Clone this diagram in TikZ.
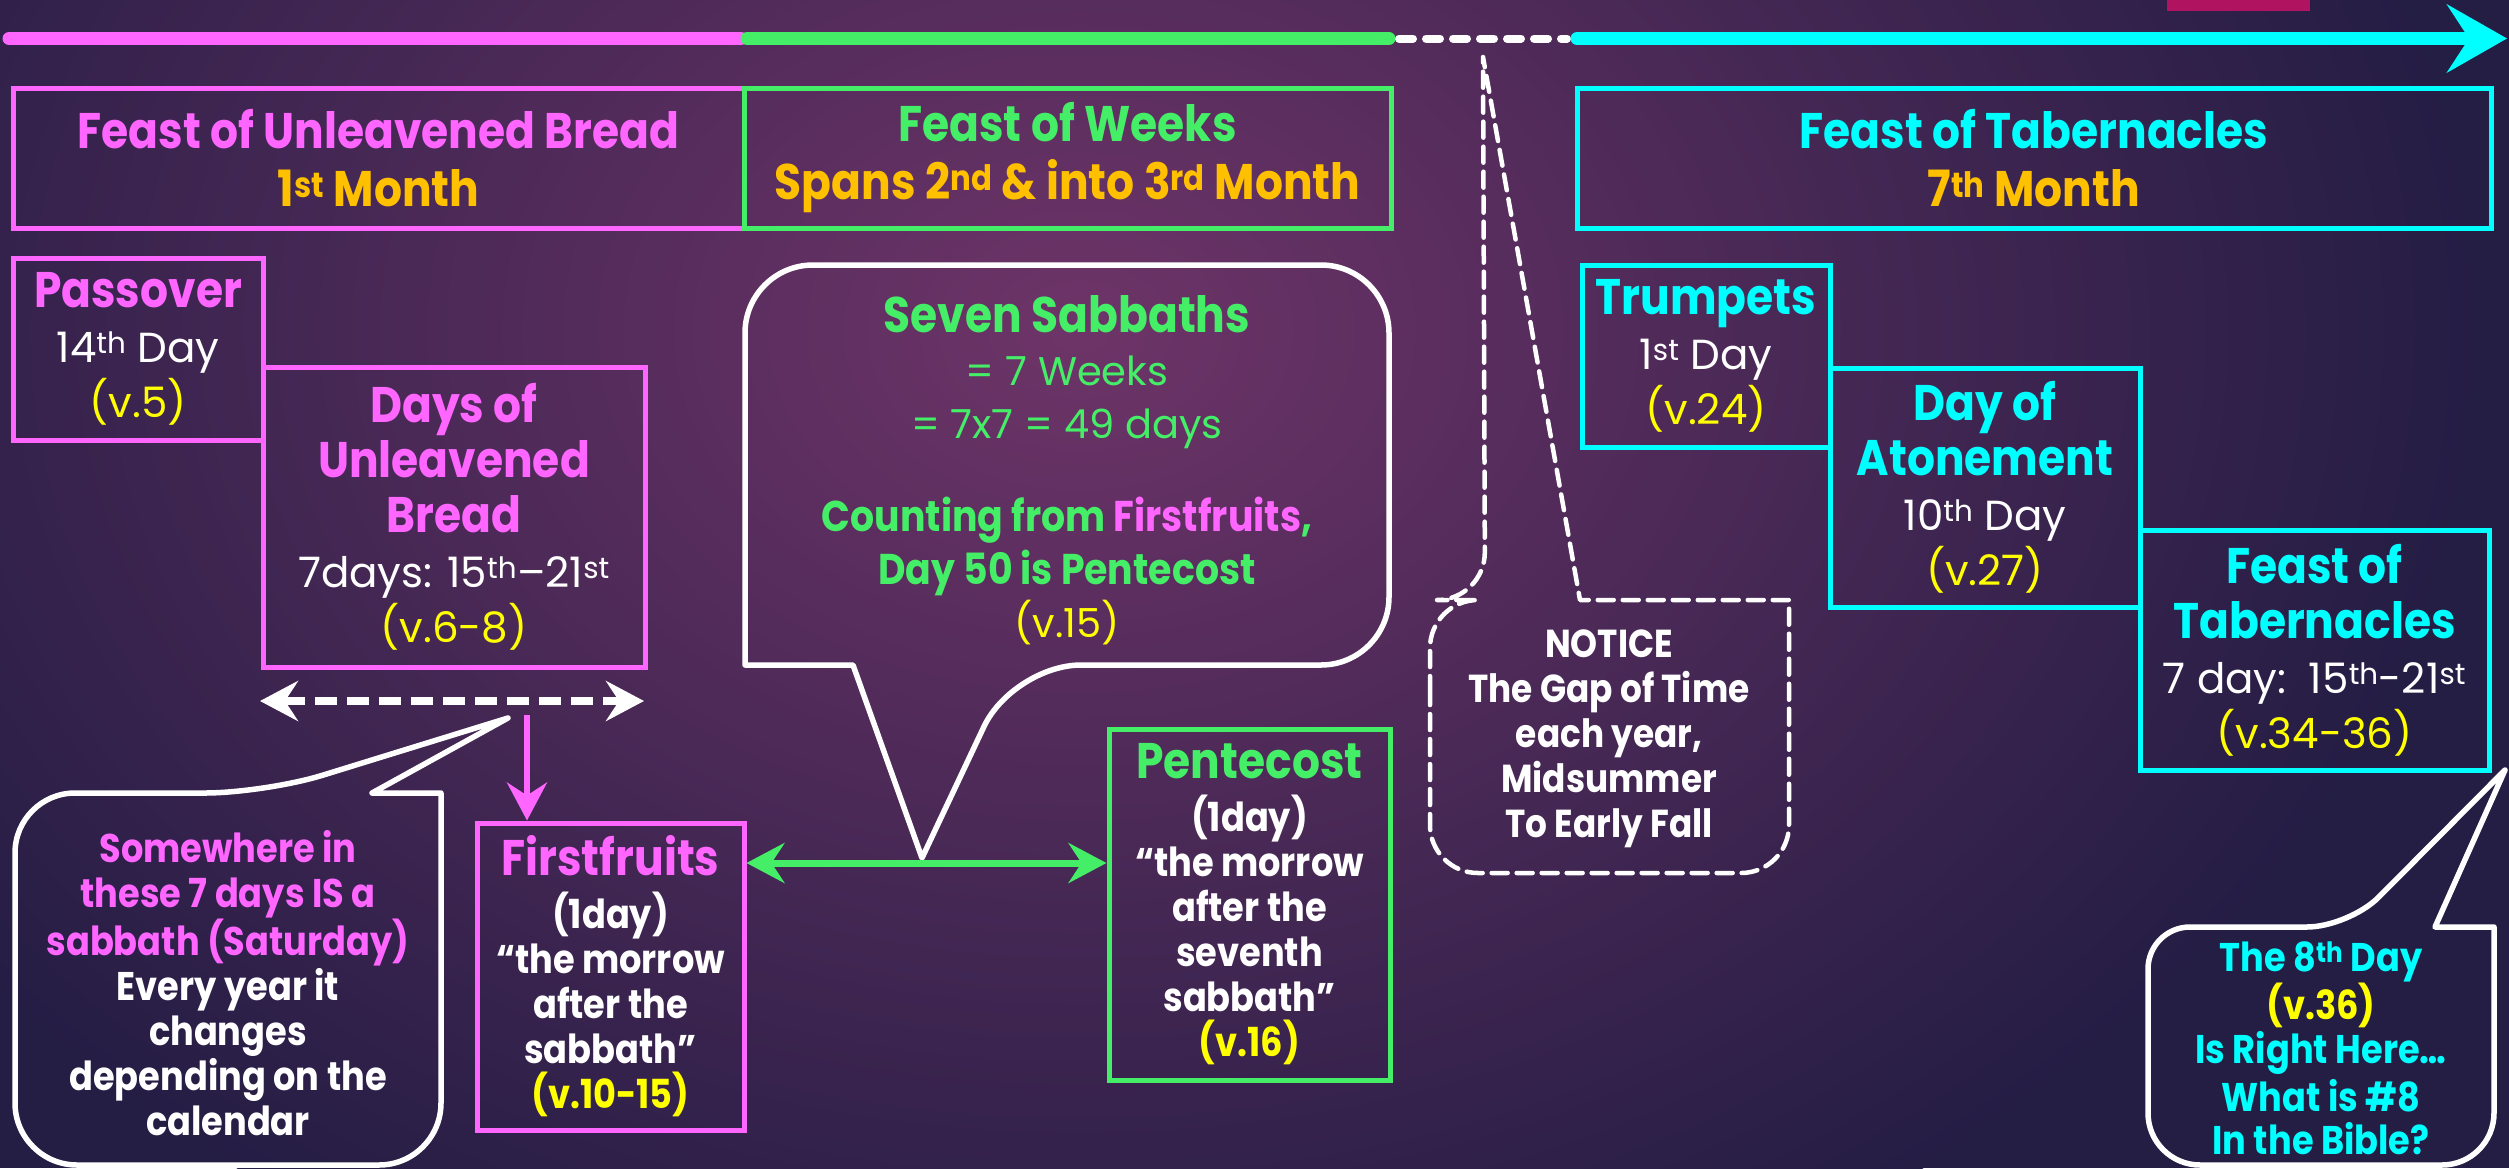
\documentclass[tikz,border=0pt]{standalone}
\usepackage{fontspec}
\setmainfont{Poppins}[BoldFeatures={FakeStretch=0.88}]
\usetikzlibrary{arrows.meta,calc}
\definecolor{mag}{HTML}{FF66FF}
\definecolor{grn}{HTML}{44EE66}
\definecolor{cyn}{HTML}{00FFFF}
\definecolor{gold}{HTML}{FFC000}
\definecolor{yel}{HTML}{FFFF00}
\definecolor{bgM}{HTML}{6E3468}
\definecolor{bgR}{HTML}{241D44}
\definecolor{crim}{HTML}{B0135F}
\newcommand\supx[1]{\textsuperscript{#1}}
\newcommand\regtxt{\mdseries\fontsize{42}{55}\selectfont}
\tikzset{
  fbox/.style={draw=#1, line width=5pt, inner sep=0pt, align=center, text=white},
  ttlfont/.style={font=\fontsize{50}{55}\selectfont\bfseries},
  smallfont/.style={font=\fontsize{40}{45}\selectfont\bfseries},
  txt/.style={align=center, text=white, inner sep=0pt},
  callout/.style={draw=white, line width=5.5pt, line join=round},
  noticeline/.style={draw=white, line width=4.5pt, dash pattern=on 16pt off 9pt, line cap=round, line join=round},
  tipA/.tip={Stealth[length=60pt,width=68pt,inset=22pt]},
  tipB/.tip={Stealth[length=38pt,width=40pt,inset=13pt]},
}
\begin{document}
\begin{tikzpicture}[x=1pt,y=-1pt]
\useasboundingbox (0,0) rectangle (2509,1168);
% background
\begin{scope}
\clip (0,0) rectangle (2509,1168);
\fill[bgR] (0,0) rectangle (2509,1168);
\shade[inner color=bgM, outer color=bgR] (1080,330) ellipse [x radius=1400, y radius=1050];
\fill[crim] (2167,-2) rectangle (2310,11);
\end{scope}

% timeline
\coordinate (tA) at (9,38.5);
\coordinate (tB) at (741,38.5);
\coordinate (tC) at (1389,38.5);
\coordinate (tD) at (1577,38.5);
\coordinate (tE) at (2507,38.5);
\draw[mag, line width=13pt, line cap=round] (tA) -- (tB);
\draw[grn, line width=13pt, line cap=round] ($(tB)+(6,0)$) -- (tC);
\draw[white, line width=8pt, line cap=round, dash pattern=on 14pt off 13pt] ($(tC)+(10,0)$) -- ($(tD)+(-10,0)$);
\draw[cyn, line width=13pt, line cap=round, -{tipA}] (tD) -- (tE);

% callout outlines (drawn first, under the texts)
\draw[callout] (745,465) [rounded corners=68pt] -- (745,265) -- (1389,265) -- (1389,665) -- (1013,665)
  [sharp corners] -- (922,858) -- (853,665) -- (745,665) [rounded corners=68pt] -- cycle;
\draw[callout] (15,980) [rounded corners=60pt] -- (15,793) -- (265,793) [sharp corners] -- (508,718) -- (372,793)
  -- (441,793) [rounded corners=62pt] -- (441,1165) -- (15,1165) -- cycle;
\draw[noticeline] (1430,740) [rounded corners=48pt] -- (1430,600) -- (1485,600) [sharp corners] -- (1483,57) -- (1580,600)
  -- (1789,600) [rounded corners=48pt] -- (1789,873) -- (1430,873) -- cycle;
\draw[callout] (2148,1050) [rounded corners=42pt] -- (2148,927) -- (2349,927) [sharp corners] -- (2505,770) -- (2435,927)
  -- (2494,927) [rounded corners=52pt] -- (2494,1165) -- (2148,1165) -- cycle;

% header boxes
\node[fbox=mag, minimum width=731pt, minimum height=140pt, font=\fontsize{50}{58}\selectfont\bfseries] (hub) at (378.5,158)
  {{\color{mag}Feast of Unleavened Bread}\\{\color{gold}1\supx{st} Month}};
\node[fbox=grn, minimum width=647pt, minimum height=140pt, font=\fontsize{50}{58}\selectfont\bfseries] (hwk) at (1067.5,158)
  {{\color{grn}Feast of Weeks}\\{\color{gold}Spans 2\supx{nd} \& into 3\supx{rd} Month}};
\node[fbox=cyn, minimum width=914pt, minimum height=140pt, font=\fontsize{50}{58}\selectfont\bfseries] (htb) at (2034,158)
  {{\color{cyn}Feast of Tabernacles}\\{\color{gold}7\supx{th} Month}};

% feast boxes
\node[fbox=mag, ttlfont, minimum width=250pt, minimum height=182pt] (pass) at (138,349)
  {{\color{mag}Passover}\\{\regtxt 14\supx{th} Day}\\{\regtxt\color{yel}(v.5)}};
\node[fbox=mag, ttlfont, minimum width=382pt, minimum height=300pt] (dub) at (454,517)
  {{\color{mag}Days of}\\{\color{mag}Unleavened}\\{\color{mag}Bread}\\{\regtxt 7days: 15\supx{th}–21\supx{st}}\\{\regtxt\color{yel}(v.6-8)}};
\node[fbox=mag, smallfont, minimum width=267pt, minimum height=307pt] (ff) at (610.5,976.5)
  {{\fontsize{50}{45}\selectfont\color{mag}Firstfruits}\\[8pt]{(1day)}\\{“the morrow}\\{after the}\\{sabbath”}\\{\color{yel}(v.10-15)}};
\node[fbox=grn, smallfont, minimum width=281pt, minimum height=351pt] (pent) at (1249.5,904.5)
  {{\fontsize{50}{45}\selectfont\color{grn}Pentecost}\\[8pt]{(1day)}\\{“the morrow}\\{after the}\\{seventh}\\{sabbath”}\\{\color{yel}(v.16)}};
\node[fbox=cyn, ttlfont, minimum width=248pt, minimum height=182pt] (trump) at (1706,356)
  {{\color{cyn}Trumpets}\\{\regtxt 1\supx{st} Day}\\{\regtxt\color{yel}(v.24)}};
\node[fbox=cyn, ttlfont, minimum width=310pt, minimum height=239pt] (aton) at (1985,487.5)
  {{\color{cyn}Day of}\\{\color{cyn}Atonement}\\{\regtxt 10\supx{th} Day}\\{\regtxt\color{yel}(v.27)}};
\node[fbox=cyn, ttlfont, minimum width=349pt, minimum height=240pt] (tab) at (2314.5,650)
  {{\color{cyn}Feast of}\\{\color{cyn}Tabernacles}\\{\regtxt 7 day:\ \ 15\supx{th}-21\supx{st}}\\{\regtxt\color{yel}(v.34-36)}};

% callout texts
\node[txt, font=\fontsize{40}{53}\selectfont] (ss) at (1067,470)
  {{\bfseries\fontsize{50}{53}\selectfont\color{grn}Seven Sabbaths}\\{\color{grn}= 7 Weeks}\\{\color{grn}= 7x7 = 49 days}\\[40pt]{\bfseries\fontsize{43}{53}\selectfont\color{grn}Counting from {\color{mag}Firstfruits},}\\{\bfseries\fontsize{43}{53}\selectfont\color{grn}Day 50 is Pentecost}\\{\color{yel}(v.15)}};
\node[txt, smallfont] (sbt) at (228,983)
  {{\color{mag}Somewhere in}\\{\color{mag}these 7 days IS a}\\{\color{mag}sabbath (Saturday)}\\{Every year it}\\{changes}\\{depending on the}\\{calendar}};
\node[txt, font=\fontsize{39}{45}\selectfont\bfseries] (ntc) at (1609,738.5)
  {{NOTICE}\\{The Gap of Time}\\{each year,}\\{Midsummer}\\{To Early Fall}};
\node[txt, text=cyn, font=\fontsize{40}{44}\selectfont\bfseries] (eig) at (2321,1008)
  {{\color{cyn}The 8\supx{th} Day}\\{\color{yel}(v.36)}\\{\color{cyn}Is Right Here…}};
\node[txt, text=cyn, font=\fontsize{40}{43}\selectfont\bfseries] (eigb) at (2321,1117.5)
  {\textcolor{cyn}{What is \#8}\\\textcolor{cyn}{In the Bible?}};

% connectors
\coordinate (dl) at (260,701);
\coordinate (dr) at (644,701);
\draw[white, line width=8pt, dash pattern=on 22pt off 10pt, {tipB}-{tipB}] (dl) -- (dr);
\coordinate (ma) at (527,715);
\draw[mag, line width=6pt, -{tipB}] (ma) -- (ma |- ff.north);
\coordinate (gy) at (0,863);
\draw[grn, line width=7pt, {tipB}-{tipB}] (ff.east |- gy) -- (pent.west |- gy);
\end{tikzpicture}
\end{document}
